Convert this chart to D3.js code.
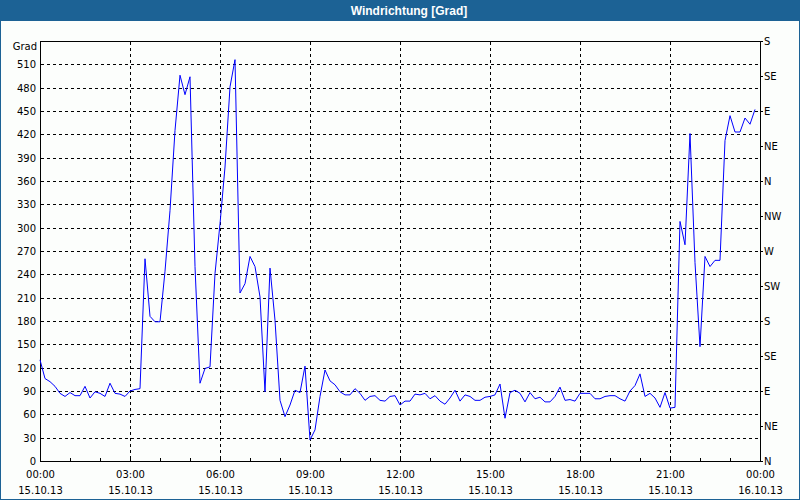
<!DOCTYPE html>
<html>
<head>
<meta charset="utf-8">
<script src="https://cdn.jsdelivr.net/npm/d3@7"></script>
<style>
  html, body { margin: 0; padding: 0; background: #fff; }
  svg { display: block; }
  text { font-family: "DejaVu Sans", Verdana, sans-serif; font-size: 10px; fill: #000; }
</style>
</head>
<body>
<svg id="chart" width="800" height="500"></svg>
<script>
// ---- data ----
const title = "Windrichtung [Grad]";
const unitLabel = "Grad";
const startTime = new Date(2013, 9, 15, 0, 0);
const endTime = new Date(2013, 9, 16, 0, 0);
const sampleMinutes = 10;
const windDirection = [
  130,106,102,96,87,83,88,84,84,96,81,89,87,83,100,87,86,83,90,92,
  93,260,186,179,179,244,322,425,496,471,494,250,100,119,121,241,305,378,481,516,
  216,228,263,250,211,89,248,181,78,57,72,91,88,122,27,40,83,117,103,98,
  89,85,85,93,87,78,83,84,78,77,83,84,72,77,77,86,85,87,80,84,
  77,73,81,91,77,85,83,78,78,82,83,85,99,55,88,91,87,76,88,80,
  82,76,76,83,95,78,79,77,87,87,87,80,80,83,84,84,80,77,90,97,
  112,83,87,81,69,88,68,69,308,278,421,255,147,263,250,258,258,412,444,423,
  423,441,433,452
];
const leftTicks = [0,30,60,90,120,150,180,210,240,270,300,330,360,390,420,450,480,510];
const rightTickValues = [0,45,90,135,180,225,270,315,360,405,450,495,540];
const rightTickLabels = ["N","NE","E","SE","S","SW","W","NW","N","NE","E","SE","S"];
const timeTickHours = [0,3,6,9,12,15,18,21,24];
const timeTickLabels = [
  ["00:00","15.10.13"],["03:00","15.10.13"],["06:00","15.10.13"],["09:00","15.10.13"],
  ["12:00","15.10.13"],["15:00","15.10.13"],["18:00","15.10.13"],["21:00","15.10.13"],
  ["00:00","16.10.13"]
];

// ---- layout ----
const W = 800, H = 500;
const plot = { left: 40, right: 760, top: 41, bottom: 461 };
const svg = d3.select("#chart");

const x = d3.scaleTime().domain([startTime, endTime]).range([plot.left, plot.right]);
const y = d3.scaleLinear().domain([0, 540]).range([plot.bottom, plot.top]);
const px = v => Math.round(v) + 0.5;

const points = windDirection.map((v, i) => ({
  t: new Date(startTime.getTime() + i * sampleMinutes * 60000), v
}));

// background
svg.append("rect").attr("x", 0).attr("y", 0).attr("width", W).attr("height", H).attr("fill", "#fcfefc");
// title bar
svg.append("rect").attr("x", 0).attr("y", 0).attr("width", W).attr("height", 21).attr("fill", "#1c6295");
svg.append("text").attr("x", 409).attr("y", 15).attr("text-anchor", "middle")
  .style("font-family", "'Liberation Sans', Arial, sans-serif").style("font-size", "12px")
  .style("font-weight", "bold").style("fill", "#ffffff").text(title);
// window border
svg.append("rect").attr("x", 0.5).attr("y", 0.5).attr("width", W - 1).attr("height", H - 1)
  .attr("fill", "none").attr("stroke", "#1c6295").attr("stroke-width", 1);
svg.append("line").attr("x1", 0).attr("x2", W).attr("y1", 499.5).attr("y2", 499.5)
  .attr("stroke", "#1c6295");

const g = svg.append("g");

// horizontal grid
g.selectAll("line.hgrid").data(leftTicks.filter(d => d > 0)).join("line")
  .attr("class", "hgrid")
  .attr("x1", plot.left + 1).attr("x2", plot.right)
  .attr("y1", d => px(y(d))).attr("y2", d => px(y(d)))
  .attr("stroke", "#000").attr("stroke-dasharray", "3,3");

// vertical grid
const hourDate = h => new Date(startTime.getTime() + h * 3600000);
g.selectAll("line.vgrid").data(timeTickHours.filter(h => h > 0 && h < 24)).join("line")
  .attr("class", "vgrid")
  .attr("x1", h => px(x(hourDate(h)))).attr("x2", h => px(x(hourDate(h))))
  .attr("y1", plot.top + 1).attr("y2", plot.bottom)
  .attr("stroke", "#000").attr("stroke-dasharray", "3,3");

// frame / axes
g.append("line").attr("x1", px(plot.left)).attr("x2", px(plot.left)).attr("y1", plot.top).attr("y2", plot.bottom + 1).attr("stroke", "#000");
g.append("line").attr("x1", px(plot.right)).attr("x2", px(plot.right)).attr("y1", plot.top).attr("y2", plot.bottom + 1).attr("stroke", "#000");
g.append("line").attr("x1", plot.left).attr("x2", plot.right + 1).attr("y1", px(plot.top)).attr("y2", px(plot.top)).attr("stroke", "#000");
g.append("line").attr("x1", plot.left).attr("x2", plot.right + 1).attr("y1", px(plot.bottom)).attr("y2", px(plot.bottom)).attr("stroke", "#000");

// hourly ticks on bottom axis (pointing up)
const hourTicks = d3.range(1, 24);
g.selectAll("line.htick").data(hourTicks).join("line")
  .attr("x1", h => px(x(hourDate(h)))).attr("x2", h => px(x(hourDate(h))))
  .attr("y1", plot.bottom - 3).attr("y2", plot.bottom)
  .attr("stroke", "#000");

// left labels
g.selectAll("text.ylab").data(leftTicks).join("text")
  .attr("x", 36).attr("y", d => Math.round(y(d)) + 4)
  .attr("text-anchor", "end").text(d => d);
g.append("text").attr("x", 37).attr("y", 50).attr("text-anchor", "end").text(unitLabel);

// right ticks and labels
g.selectAll("line.rtick").data(rightTickValues).join("line")
  .attr("x1", plot.right + 1).attr("x2", plot.right + 3)
  .attr("y1", d => px(y(d))).attr("y2", d => px(y(d)))
  .attr("stroke", "#000");
g.selectAll("text.rlab").data(rightTickValues).join("text")
  .attr("x", 764).attr("y", (d) => Math.round(y(d)) + 4)
  .text((d, i) => rightTickLabels[i]);

// bottom labels
const bl = g.selectAll("text.xlab").data(timeTickHours).join("text")
  .attr("text-anchor", "middle");
bl.append("tspan").attr("x", h => x(hourDate(h)) + 0.5).attr("y", 478).text((h, i) => timeTickLabels[i][0]);
bl.append("tspan").attr("x", h => x(hourDate(h)) + 0.5).attr("y", 494).text((h, i) => timeTickLabels[i][1]);

// data line
const line = d3.line().x(d => x(d.t)).y(d => y(d.v));
g.append("path").datum(points).attr("d", line)
  .attr("fill", "none").attr("stroke", "#0000ff").attr("stroke-width", 1);
</script>
</body>
</html>
